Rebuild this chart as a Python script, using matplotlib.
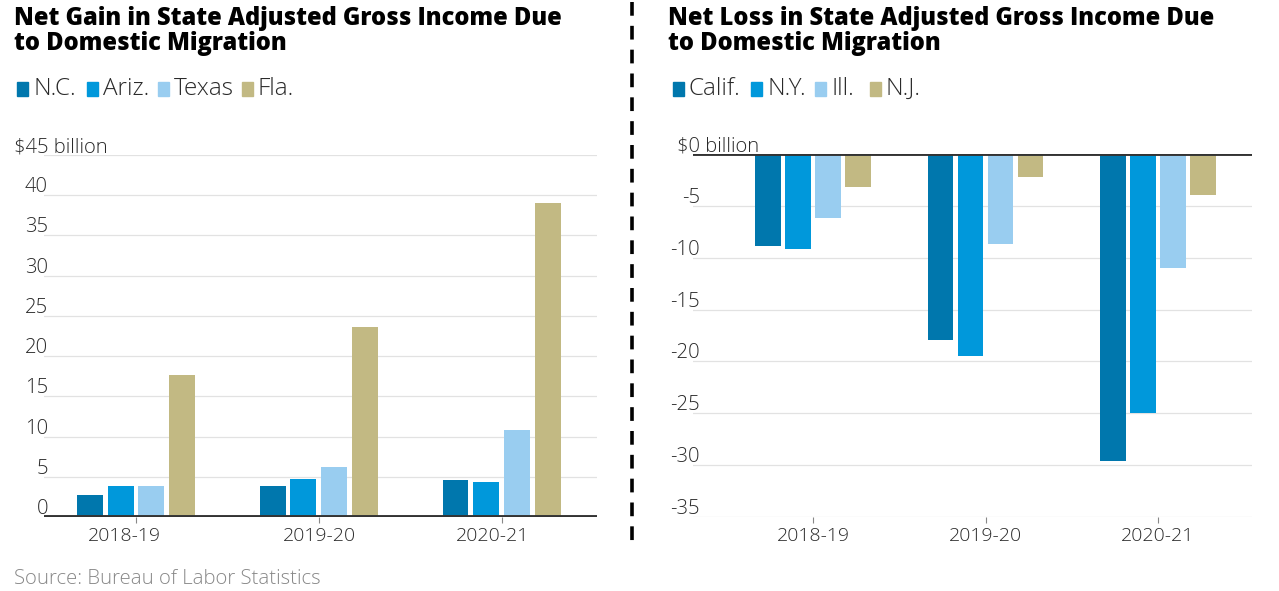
import numpy as np
import matplotlib
matplotlib.use("Agg")
import matplotlib.pyplot as plt
import matplotlib.transforms as mtransforms
from matplotlib.patches import Rectangle
from matplotlib.lines import Line2D

# データ
periods = ["2018-19", "2019-20", "2020-21"]

gain_states = ["N.C.", "Ariz.", "Texas", "Fla."]
gain_nc = [2.7, 3.8, 4.6]
gain_ariz = [3.8, 4.7, 4.4]
gain_texas = [3.9, 6.2, 10.8]
gain_fla = [17.6, 23.6, 39.0]

loss_states = ["Calif.", "N.Y.", "Ill.", "N.J."]
loss_calif = [-8.9, -17.9, -29.6]
loss_ny = [-9.2, -19.5, -25.0]
loss_ill = [-6.2, -8.7, -11.0]
loss_nj = [-3.2, -2.2, -4.0]

gain_ticks = [0, 5, 10, 15, 20, 25, 30, 35, 40, 45]
loss_ticks = [0, -5, -10, -15, -20, -25, -30, -35]

colors = ["#0077ad", "#0098db", "#99cdf0", "#c2b983"]

W, H = 1279, 591
fig = plt.figure(figsize=(W / 100, H / 100), dpi=100)

LIGHT = "Open Sans"
BOLD = "Open Sans"
txt_col = "#2a2a2a"
FS = 14.6


def px(x, y):
    return x / W, 1 - y / H


def draw_panel(rect, series, ylim, ticks, top_label, label_right, xlim, width, step, lab_dx):
    ax = fig.add_axes(rect)
    x = np.arange(len(periods))
    for i, vals in enumerate(series):
        ax.bar(x + (i - 1.5) * step, vals, width=width, color=colors[i], zorder=3)
    ax.set_xlim(*xlim)
    ax.set_ylim(*ylim)
    for s in ax.spines.values():
        s.set_visible(False)
    ax.set_yticks([])
    ax.set_xticks(x)
    ax.set_xticklabels(periods, fontsize=14, family=LIGHT, weight="light", color=txt_col)
    ax.tick_params(axis="x", length=4, width=0.8, color="#888888", pad=3)
    for lab, dx in zip(ax.get_xticklabels(), lab_dx):
        lab.set_transform(lab.get_transform() +
                          mtransforms.ScaledTranslation(dx / 100, 0, fig.dpi_scale_trans))
    # グリッド線
    for t in ticks:
        if t == 0:
            ax.axhline(0, color="#333333", lw=2.8, zorder=4)
        else:
            ax.axhline(t, color="#e2e2e2", lw=0.9, zorder=1)
    # 目盛りラベル
    tr = mtransforms.blended_transform_factory(fig.transFigure, ax.transData)
    off = mtransforms.ScaledTranslation(0, 3 / 100, fig.dpi_scale_trans)
    for t in ticks:
        if (top_label and t == max(ticks)) or (not top_label and t == 0):
            continue
        ax.text(label_right / W, t, str(t), transform=tr + off, ha="right",
                va="baseline", fontsize=FS, family=LIGHT, weight="light", color=txt_col)
    return ax, tr, off


# 左パネル
axl, trl, offl = draw_panel([44 / W, 1 - 517 / H, 553 / W, 362 / H],
                            [gain_nc, gain_ariz, gain_texas, gain_fla],
                            (0, 45), gain_ticks, True, 48,
                            (-0.503, 2.52), 0.142, 0.169, [-12, 0, -9])
axl.text(14 / W, 45, "$45 billion", transform=trl + offl, ha="left",
         va="baseline", fontsize=FS, family=LIGHT, weight="light", color=txt_col)

# 右パネル
axr, trr, offr = draw_panel([693 / W, 1 - 517 / H, 559 / W, 363 / H],
                            [loss_calif, loss_ny, loss_ill, loss_nj],
                            (-35, 0), loss_ticks, False, 700,
                            (-0.696, 2.545), 0.15, 0.174, [0, 0, 0])
axr.text(677 / W, 0, "$0 billion", transform=trr + offr, ha="left",
         va="baseline", fontsize=FS, family=LIGHT, weight="light", color=txt_col)

# タイトル
for x0, word in [(14, "Gain"), (668, "Loss")]:
    fig.text(*px(x0, 50), "Net %s in State Adjusted Gross Income Due\nto Domestic Migration" % word,
             ha="left", va="baseline", fontsize=17, family=BOLD, weight="heavy",
             color="black", linespacing=1.0)

# 凡例
leg_left = [17, 87, 158, 242]
leg_right = [673, 751, 815, 870]
for xs, names in [(leg_left, gain_states), (leg_right, loss_states)]:
    for i, (x0, name) in enumerate(zip(xs, names)):
        fig.patches.append(Rectangle(px(x0, 96), 11 / W, 14 / H, color=colors[i],
                                     transform=fig.transFigure, figure=fig))
        fig.text(*px(x0 + 16, 95), name, ha="left", va="baseline", fontsize=17.5,
                 family=LIGHT, weight="light", color=txt_col)

# 区切り線
fig.add_artist(Line2D([632 / W, 632 / W], [1 - 2 / H, 1 - 542 / H],
                      transform=fig.transFigure, color="black", lw=2.6,
                      linestyle=(0, (3.8, 2.8))))

# 出典
fig.text(*px(14, 584), "Source: Bureau of Labor Statistics", ha="left",
         va="baseline", fontsize=14.7, family=LIGHT, weight="light", color="#888888")

fig.savefig("out.png", dpi=100)
